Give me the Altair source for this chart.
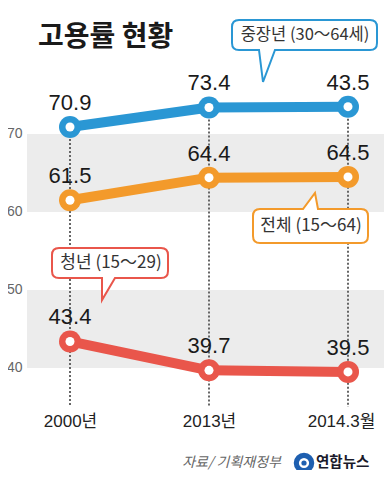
import altair as alt
import pandas as pd

years = ["2000년", "2013년", "2014.3월"]
series_names = ["중장년", "전체", "청년"]
middle_vals = [70.9, 73.4, 73.5]
middle_labels = ["70.9", "73.4", "43.5"]
total_vals = [61.5, 64.4, 64.5]
total_labels = ["61.5", "64.4", "64.5"]
youth_vals = [43.4, 39.7, 39.5]
youth_labels = ["43.4", "39.7", "39.5"]
band_lo = [60, 40]
band_hi = [70, 50]
y_ticks = [40, 50, 60, 70]
colors = ["#2a97d4", "#f39a2b", "#e9564b"]
title_text = "고용률 현황"
callout_texts = ["중장년 (30～64세)", "전체 (15～64)", "청년 (15～29)"]
source_text = "자료/ 기획재정부"
logo_text = "연합뉴스"

rows = []
for name, vals, labs in zip(series_names,
                            [middle_vals, total_vals, youth_vals],
                            [middle_labels, total_labels, youth_labels]):
    for yr, v, lb in zip(years, vals, labs):
        rows.append({"year": yr, "series": name, "value": v, "label": lb})
df = pd.DataFrame(rows)
top_df = pd.DataFrame({"year": years, "value": middle_vals})
bands_df = pd.DataFrame({"value": band_hi, "lo": band_lo})

NUM_FONT = "Liberation Sans"
XFONT = "Liberation Sans, Noto Sans CJK KR"
KR = "Noto Sans CJK KR"

xscale = alt.Scale(type="point", domain=years, range=[43, 321], padding=0)
yscale = alt.Scale(domain=[35, 86.15], nice=False, zero=False)
cscale = alt.Scale(domain=series_names, range=colors)

x_axis = alt.Axis(title=None, domain=False, ticks=False, grid=False, labelAngle=0,
                  labelFont=XFONT, labelFontSize=17, labelColor="#222", labelPadding=6,
                  labelOffset={"condition": {"test": "datum.label == '2014.3월'", "value": -7},
                               "value": 0})
y_axis = alt.Axis(title=None, values=y_ticks, domain=False, ticks=False, grid=False,
                  labelFont=NUM_FONT, labelFontSize=14, labelColor="#666", labelPadding=5)

X = alt.X("year:N", scale=xscale, axis=x_axis, title=None)
Y = alt.Y("value:Q", scale=yscale, axis=y_axis, title=None)

bands = alt.Chart(bands_df).mark_rect(color="#ececec").encode(
    x=alt.value(0), x2=alt.value(357), y=Y, y2="lo:Q")

rules = alt.Chart(top_df).mark_rule(color="#666", strokeDash=[2, 2], strokeWidth=2).encode(
    x=X, y=Y, y2=alt.value(399))

base = alt.Chart(df).encode(
    x=X, y=Y,
    color=alt.Color("series:N", scale=cscale, legend=None))

lines = base.mark_line(strokeWidth=10, strokeJoin="round")
outer = base.mark_point(filled=True, opacity=1, size=484, shape="circle")
inner = base.mark_point(filled=True, opacity=1, size=81, shape="circle").encode(
    color=alt.value("white"))
labels = base.mark_text(dy=-17, baseline="alphabetic", font=NUM_FONT, fontSize=22).encode(
    text="label:N", color=alt.value("#1a1a1a"))

one = pd.DataFrame({"k": [0]})


def callout(path, x0, y0, color, text, tx, ty, fs):
    shape = alt.Chart(one).mark_point(shape=path, size=4, filled=True, fill="white",
                                      stroke=color, strokeWidth=2, opacity=1).encode(
        x=alt.value(x0), y=alt.value(y0))
    txt = alt.Chart(pd.DataFrame({"t": [text]})).mark_text(
        font=KR, fontSize=fs, color="#333", align="center", baseline="middle").encode(
        x=alt.value(tx), y=alt.value(ty), text="t:N")
    return shape + txt


c1 = callout("M7,0 L138,0 Q145,0 145,7 L145,23 Q145,30 138,30 L43,30 L31,62 L27,30 "
             "L7,30 Q0,30 0,23 L0,7 Q0,0 7,0 Z", 205, 12, colors[0], callout_texts[0], 278, 27, 16.5)
c2 = callout("M7,0 L50,0 L62,-16 L65,0 L108,0 Q115,0 115,7 L115,27 Q115,34 108,34 "
             "L7,34 Q0,34 0,27 L0,7 Q0,0 7,0 Z", 226, 201, colors[1], callout_texts[1], 284, 218, 17)
c3 = callout("M7,0 L109,0 Q116,0 116,7 L116,23 Q116,30 109,30 L63,30 L50,52 L50,30 "
             "L7,30 Q0,30 0,23 L0,7 Q0,0 7,0 Z", 25, 240, colors[2], callout_texts[2], 84, 255, 17)

title = alt.Chart(pd.DataFrame({"t": [title_text]})).mark_text(
    font=KR, fontSize=28, fontWeight="bold", color="#1a1a1a", align="left", baseline="middle").encode(
    x=alt.value(11), y=alt.value(30), text="t:N")

source = alt.Chart(pd.DataFrame({"t": [source_text]})).mark_text(
    font=KR, fontSize=14, color="#666", fontStyle="italic", align="right", baseline="middle").encode(
    x=alt.value(254), y=alt.value(455), text="t:N")

logo_circle = alt.Chart(one).mark_point(shape="circle", filled=True, color="#1e5fb0",
                                        size=420, opacity=1).encode(x=alt.value(277), y=alt.value(455))
logo_inner = alt.Chart(one).mark_point(shape="circle", filled=False, color="white",
                                       strokeWidth=2.5, size=60, opacity=1).encode(
    x=alt.value(277), y=alt.value(455))
logo_txt = alt.Chart(pd.DataFrame({"t": [logo_text]})).mark_text(
    font=KR, fontSize=14.5, fontWeight="bold", color="#1a1a2a", align="left", baseline="middle").encode(
    x=alt.value(289), y=alt.value(455), text="t:N")

chart = alt.layer(bands, rules, lines, outer, inner, labels, c1, c2, c3, title, source,
                  logo_circle, logo_inner, logo_txt).properties(
    width=357, height=399, autosize="none",
    padding={"left": 19, "top": 0, "right": 0, "bottom": 63},
    background="white").configure_view(stroke=None)

chart.save("out.html", embed_options={"renderer": "svg", "actions": False})
